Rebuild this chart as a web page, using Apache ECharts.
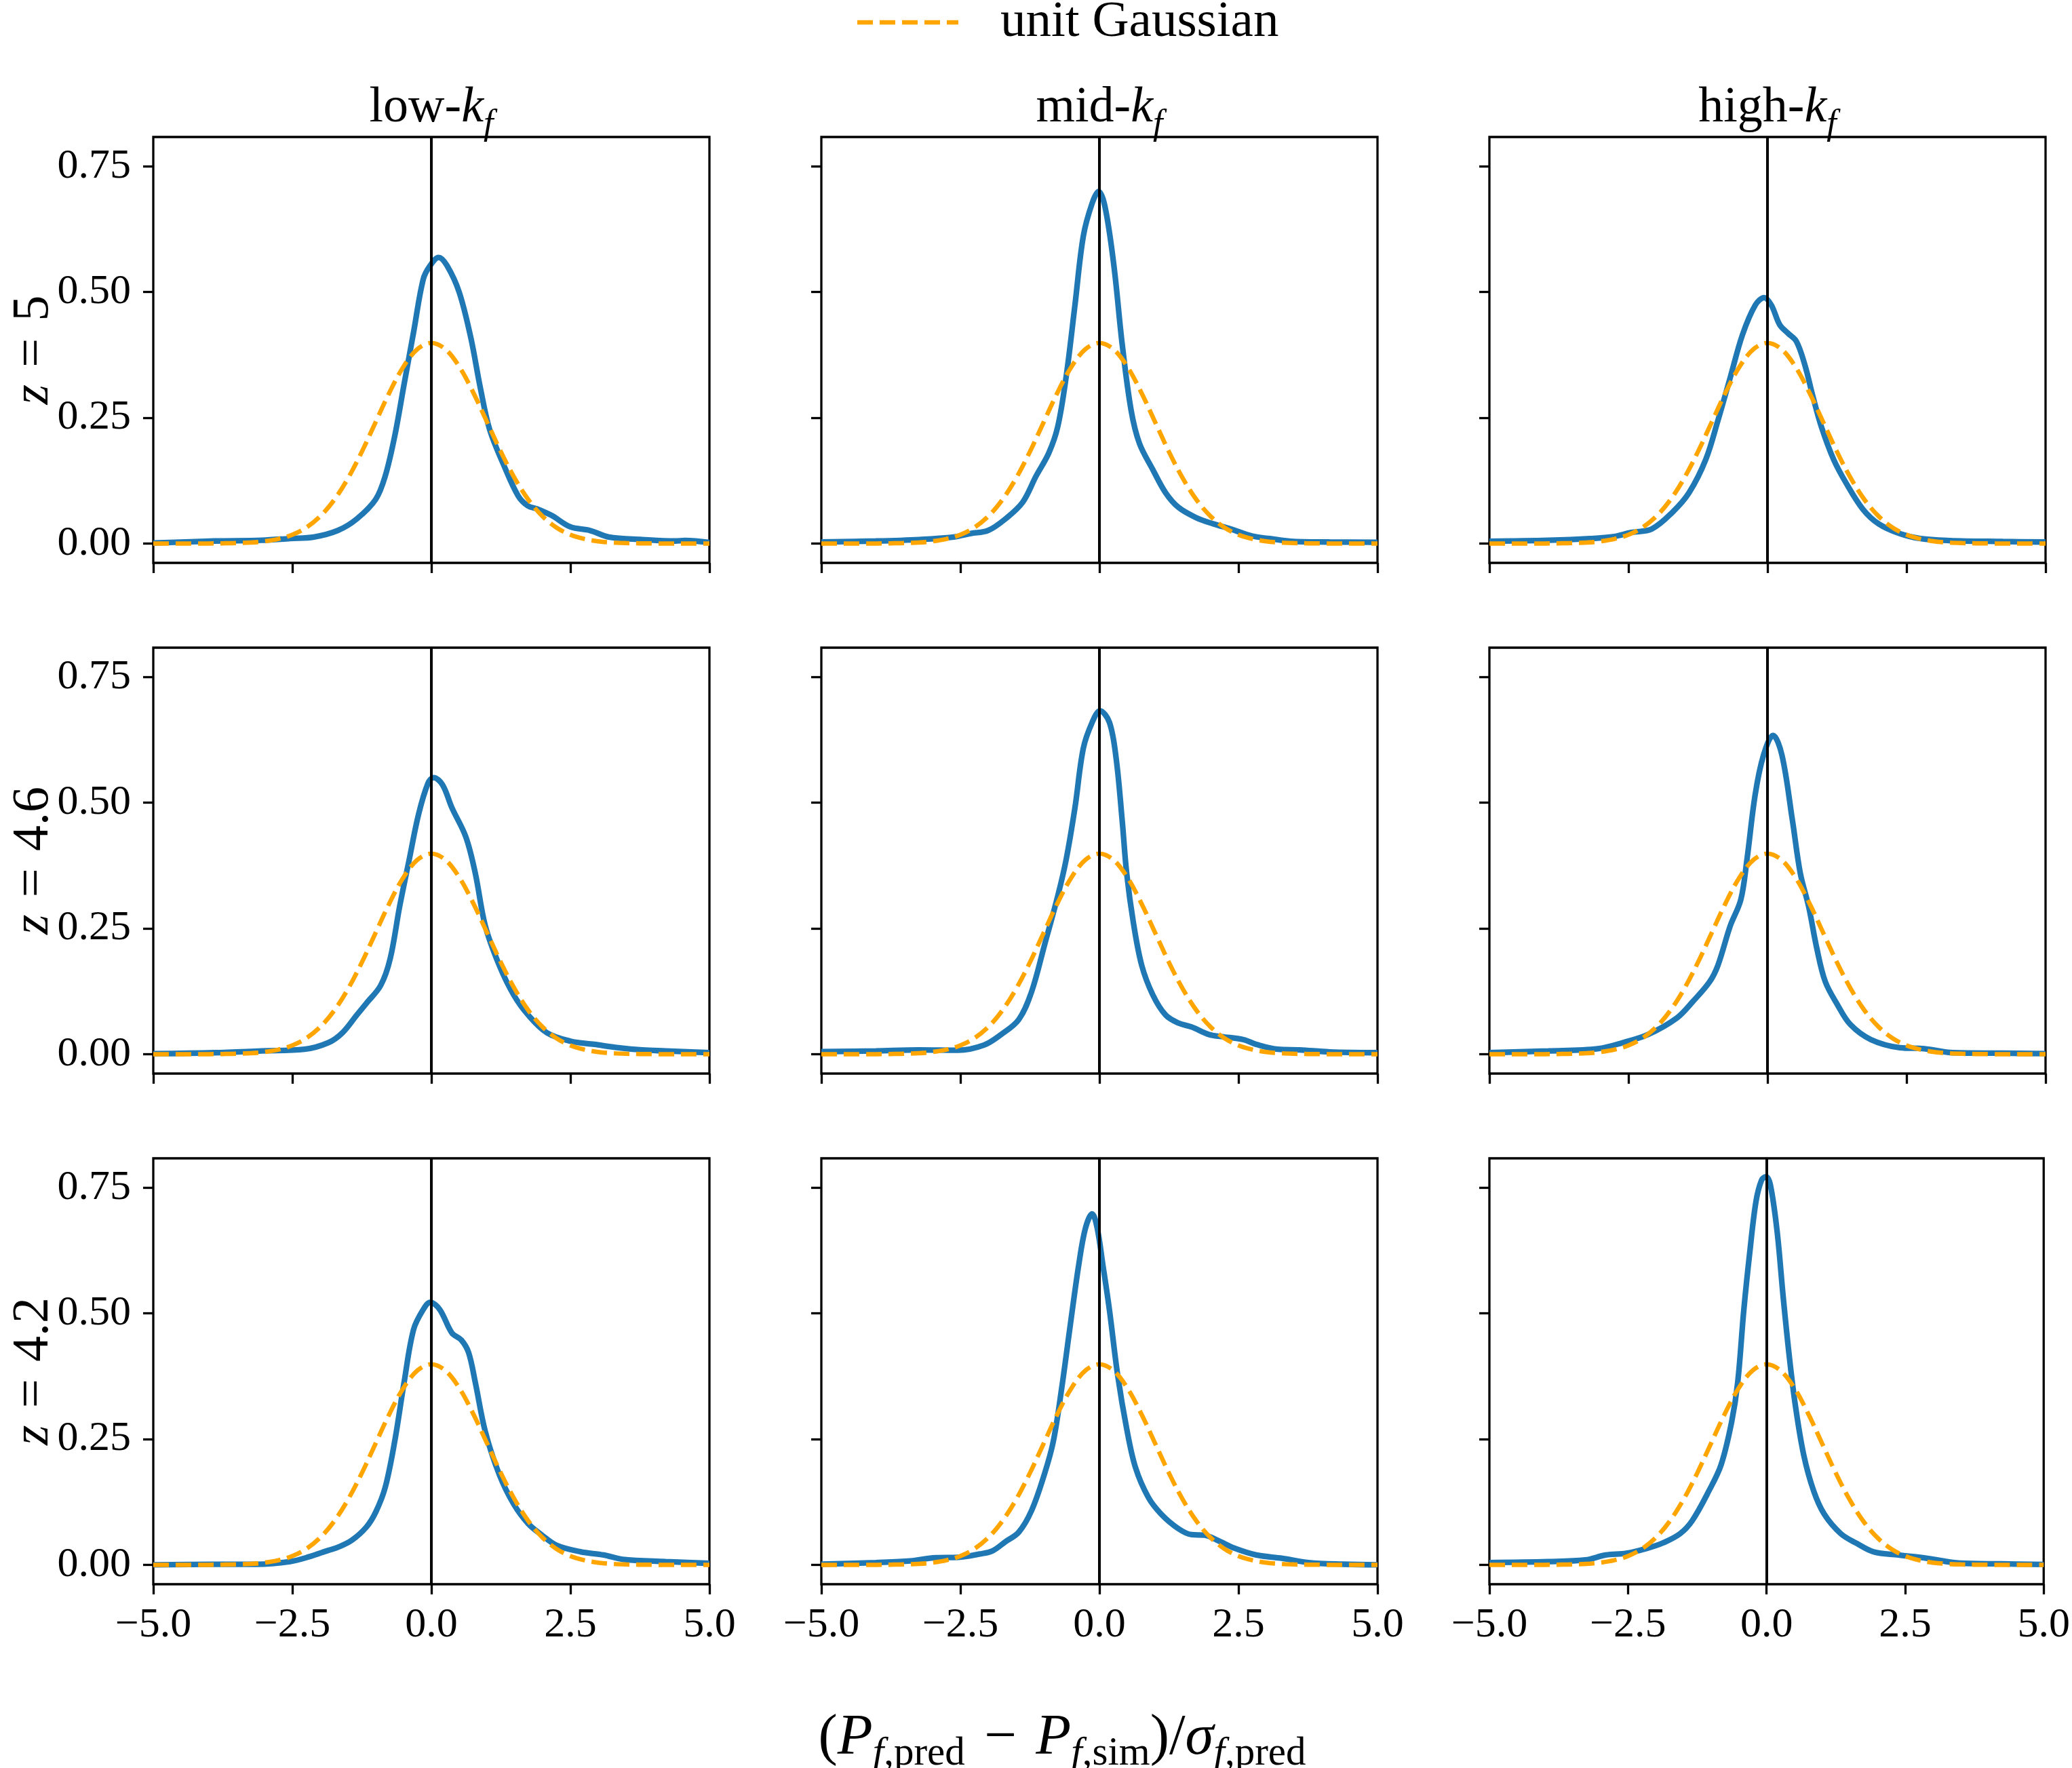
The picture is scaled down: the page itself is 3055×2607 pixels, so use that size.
<!DOCTYPE html>
<html>
<head>
<meta charset="utf-8">
<script src="https://cdn.jsdelivr.net/npm/echarts@6/dist/echarts.min.js"></script>
<style>
html,body{margin:0;padding:0;background:#fff;}
#chart{width:3055px;height:2607px;}
</style>
</head>
<body>
<div id="chart"></div>
<script>
// ---------- labels ----------
const colPrefixes = ['low-', 'mid-', 'high-'];
const rowZ = ['5', '4.6', '4.2'];
const yTicks = [0, 0.25, 0.5, 0.75];
const legendName = 'unit Gaussian';

// ---------- unit Gaussian ----------
const gaussX = [-5,-4.75,-4.5,-4.25,-4,-3.75,-3.5,-3.25,-3,-2.75,-2.5,-2.25,-2,-1.75,-1.5,-1.25,-1,-0.75,-0.5,-0.25,0,0.25,0.5,0.75,1,1.25,1.5,1.75,2,2.25,2.5,2.75,3,3.25,3.5,3.75,4,4.25,4.5,4.75,5];
const gaussY = [0,0,0,0,0.0001,0.0004,0.0009,0.002,0.0044,0.0091,0.0175,0.0317,0.054,0.0863,0.1295,0.1826,0.242,0.3011,0.3521,0.3867,0.3989,0.3867,0.3521,0.3011,0.242,0.1826,0.1295,0.0863,0.054,0.0317,0.0175,0.0091,0.0044,0.002,0.0009,0.0004,0.0001,0,0,0,0];

// ---------- z = 5 ----------
const lowZ5X = [-5,-3.9,-3.05,-2.54,-2.11,-1.68,-1.34,-1.0,-0.83,-0.66,-0.49,-0.32,-0.145,-0.02,0.13,0.28,0.5,0.71,0.88,1.05,1.31,1.56,1.735,1.9,2.16,2.5,2.85,3.19,3.79,4.38,4.56,5];
const lowZ5Y = [0.001,0.005,0.0065,0.01,0.013,0.026,0.049,0.088,0.134,0.213,0.317,0.42,0.526,0.553,0.569,0.553,0.5,0.409,0.31,0.226,0.154,0.095,0.075,0.069,0.056,0.033,0.026,0.013,0.008,0.005,0.006,0.002];
const midZ5X = [-5,-4.02,-3.24,-2.62,-2.31,-2.0,-1.69,-1.38,-1.14,-0.91,-0.75,-0.6,-0.44,-0.29,-0.13,-0.015,0.10,0.26,0.41,0.57,0.72,0.96,1.19,1.42,1.73,2.05,2.36,2.74,3.06,3.44,4.14,5];
const midZ5Y = [0.003,0.005,0.008,0.013,0.02,0.026,0.049,0.082,0.134,0.18,0.232,0.33,0.474,0.611,0.677,0.70,0.67,0.553,0.396,0.265,0.199,0.147,0.101,0.072,0.052,0.039,0.029,0.015,0.0098,0.0046,0.003,0.0026];
const highZ5X = [-5,-3.94,-3.19,-2.75,-2.45,-2.08,-1.71,-1.41,-1.11,-0.89,-0.67,-0.45,-0.22,-0.06,0.07,0.22,0.37,0.52,0.67,0.82,0.97,1.19,1.41,1.71,2.0,2.38,2.75,3.27,4.23,5];
const highZ5Y = [0.0046,0.0065,0.0098,0.014,0.022,0.029,0.062,0.101,0.167,0.245,0.33,0.415,0.474,0.489,0.474,0.435,0.418,0.402,0.356,0.291,0.232,0.167,0.121,0.069,0.039,0.0196,0.0098,0.0059,0.004,0.003];

// ---------- z = 4.6 ----------
const lowZ46X = [-5,-3.9,-3.05,-2.28,-1.85,-1.6,-1.34,-1.17,-0.91,-0.74,-0.57,-0.40,-0.23,-0.06,0.04,0.2,0.37,0.62,0.79,0.97,1.22,1.48,1.74,2.08,2.5,2.93,3.36,3.79,4.21,5];
const lowZ46Y = [0.001,0.003,0.0065,0.0098,0.023,0.0425,0.078,0.101,0.137,0.19,0.294,0.386,0.477,0.539,0.55,0.536,0.49,0.432,0.36,0.255,0.177,0.118,0.078,0.0425,0.026,0.0196,0.013,0.0085,0.0065,0.003];
const midZ46X = [-5,-4.02,-3.24,-2.54,-2.08,-1.77,-1.45,-1.22,-0.99,-0.75,-0.60,-0.44,-0.29,-0.13,0.01,0.18,0.30,0.41,0.49,0.61,0.76,0.96,1.19,1.42,1.66,1.97,2.2,2.59,2.82,3.21,3.6,4.14,5];
const midZ46Y = [0.005,0.0065,0.0085,0.0078,0.018,0.039,0.069,0.124,0.216,0.314,0.386,0.49,0.608,0.66,0.683,0.66,0.589,0.464,0.36,0.262,0.177,0.118,0.078,0.062,0.054,0.039,0.035,0.029,0.0196,0.0098,0.0085,0.0046,0.003];
const highZ46X = [-5,-3.94,-3.05,-2.6,-2.15,-1.63,-1.34,-1.04,-0.89,-0.67,-0.48,-0.37,-0.22,-0.07,0.10,0.26,0.45,0.59,0.74,0.89,1.04,1.26,1.49,1.86,2.38,2.82,3.34,4.23,5];
const highZ46Y = [0.003,0.0065,0.011,0.023,0.039,0.072,0.105,0.144,0.177,0.255,0.307,0.386,0.517,0.595,0.634,0.595,0.464,0.36,0.294,0.209,0.144,0.098,0.059,0.029,0.013,0.011,0.003,0.002,0.001];

// ---------- z = 4.2 ----------
const lowZ42X = [-5,-3.9,-3.14,-2.54,-2.2,-1.85,-1.68,-1.43,-1.17,-1.0,-0.83,-0.66,-0.49,-0.32,-0.145,-0.02,0.15,0.37,0.54,0.67,0.79,0.97,1.22,1.48,1.74,1.99,2.25,2.68,3.1,3.44,4.21,5];
const lowZ42Y = [0,0.001,0.001,0.0065,0.016,0.029,0.035,0.049,0.075,0.105,0.154,0.245,0.363,0.468,0.508,0.522,0.508,0.461,0.447,0.422,0.363,0.265,0.18,0.121,0.082,0.059,0.039,0.026,0.0196,0.011,0.0065,0.003];
const midZ42X = [-5,-4.02,-3.4,-2.94,-2.54,-2.15,-1.92,-1.69,-1.45,-1.22,-0.99,-0.83,-0.68,-0.52,-0.37,-0.25,-0.13,-0.04,0.06,0.18,0.33,0.49,0.65,0.88,1.11,1.42,1.66,1.89,2.12,2.43,2.82,3.29,3.76,4.38,5];
const midZ42Y = [0.0013,0.0046,0.0078,0.0144,0.015,0.0216,0.028,0.046,0.065,0.108,0.18,0.245,0.35,0.48,0.598,0.67,0.698,0.67,0.598,0.507,0.376,0.271,0.193,0.134,0.101,0.072,0.06,0.059,0.049,0.033,0.0196,0.013,0.0046,0.0013,0];
const highZ42X = [-5,-3.94,-3.27,-2.9,-2.53,-2.15,-1.86,-1.56,-1.34,-1.04,-0.82,-0.63,-0.52,-0.41,-0.30,-0.19,-0.09,-0.01,0.07,0.19,0.30,0.41,0.52,0.67,0.85,1.04,1.34,1.63,1.93,2.38,2.9,3.49,4.23,5];
const highZ42Y = [0.0046,0.0065,0.0098,0.0196,0.023,0.033,0.044,0.062,0.088,0.147,0.199,0.284,0.363,0.507,0.624,0.723,0.765,0.772,0.755,0.664,0.533,0.415,0.317,0.219,0.147,0.101,0.062,0.0425,0.026,0.0196,0.013,0.0033,0.002,0.0007];

const panels = [
  [lowZ5X, lowZ5Y], [midZ5X, midZ5Y], [highZ5X, highZ5Y],
  [lowZ46X, lowZ46Y], [midZ46X, midZ46Y], [highZ46X, highZ46Y],
  [lowZ42X, lowZ42Y], [midZ42X, midZ42Y], [highZ42X, highZ42Y]
];

// ---------- layout ----------
const FONT = '"Liberation Serif", "DejaVu Serif", serif';
const colLeft = [226, 1211, 2196];
const rowTop = [202, 955, 1708];
const panelW = 820, panelH = 628;
const BLUE = '#1f77b4', ORANGE = '#FFA500';

const zip = (xs, ys) => xs.map((x, i) => [x, ys[i]]);
const fmtX = v => (v < 0 ? '\u2212' : '') + Math.abs(v).toFixed(1);

const grids = [], xAxes = [], yAxes = [], series = [];
for (let r = 0; r < 3; r++) {
  for (let c = 0; c < 3; c++) {
    const i = r * 3 + c;
    grids.push({left: colLeft[c], top: rowTop[r], width: panelW, height: panelH,
      show: true, borderColor: '#000', borderWidth: 3.3, backgroundColor: 'rgba(0,0,0,0)', containLabel: false});
    xAxes.push({gridIndex: i, type: 'value', min: -5, max: 5, interval: 2.5, position: 'bottom',
      axisLine: {show: false, onZero: false},
      axisTick: {show: true, inside: false, length: 15, lineStyle: {color: '#000', width: 3.3}},
      axisLabel: {show: r === 2, margin: 30, fontSize: 62, fontFamily: FONT, color: '#000',
        formatter: fmtX, showMinLabel: true, showMaxLabel: true},
      splitLine: {show: false}});
    yAxes.push({gridIndex: i, type: 'value', min: -0.0385, max: 0.8085, position: 'left',
      axisLine: {show: false, onZero: false},
      axisTick: {show: true, inside: false, length: 15, customValues: yTicks, lineStyle: {color: '#000', width: 3.3}},
      axisLabel: {show: c === 0, customValues: yTicks, margin: 33, fontSize: 62, fontFamily: FONT, color: '#000',
        formatter: v => v.toFixed(2)},
      splitLine: {show: false}});
    const p = panels[i];
    series.push({type: 'line', name: 'data', xAxisIndex: i, yAxisIndex: i, data: zip(p[0], p[1]),
      smooth: 0.35, symbol: 'none', lineStyle: {color: BLUE, width: 8.3}, z: 2, animation: false});
    series.push({type: 'line', name: legendName, xAxisIndex: i, yAxisIndex: i, data: zip(gaussX, gaussY),
      smooth: 0.35, symbol: 'none', lineStyle: {color: ORANGE, width: 6.5, type: [23, 10]}, z: 3, animation: false,
      markLine: {silent: true, symbol: ['none', 'none'], label: {show: false}, animation: false,
        lineStyle: {color: '#000', width: 4, type: 'solid'}, data: [{xAxis: 0}]}});
  }
}

const graphics = [];
// legend
graphics.push({type: 'line', shape: {x1: 1264, y1: 33, x2: 1413, y2: 33},
  style: {stroke: ORANGE, lineWidth: 6.5, lineDash: [23, 10]}});
graphics.push({type: 'text', x: 1475, y: 33,
  style: {text: legendName, fontSize: 75, fontFamily: FONT, fill: '#000', align: 'left', verticalAlign: 'middle'}});
// column titles
for (let c = 0; c < 3; c++) {
  graphics.push({type: 'text', x: colLeft[c] + panelW / 2, y: 160,
    style: {text: '{r|' + colPrefixes[c] + '}{i|k}{s|f}', align: 'center', verticalAlign: 'middle',
      rich: {
        r: {fontSize: 74, fontFamily: FONT, fill: '#000', lineHeight: 100, verticalAlign: 'middle'},
        i: {fontSize: 74, fontFamily: FONT, fontStyle: 'italic', fill: '#000', lineHeight: 100, verticalAlign: 'middle'},
        s: {fontSize: 52, fontFamily: FONT, fontStyle: 'italic', fill: '#000', lineHeight: 52, verticalAlign: 'bottom'}
      }}});
}
// row labels
for (let r = 0; r < 3; r++) {
  graphics.push({type: 'text', x: 50, y: rowTop[r] + panelH / 2, rotation: Math.PI / 2,
    style: {text: '{i|z}{r|\u2004=\u2004' + rowZ[r] + '}', align: 'center', verticalAlign: 'middle',
      rich: {
        i: {fontSize: 76, fontFamily: FONT, fontStyle: 'italic', fill: '#000'},
        r: {fontSize: 76, fontFamily: FONT, fill: '#000'}
      }}});
}
// x label
const subR = {fontSize: 59, fontFamily: FONT, fill: '#000', lineHeight: 59, verticalAlign: 'bottom'};
const subI = Object.assign({}, subR, {fontStyle: 'italic'});
graphics.push({type: 'text', x: 1566, y: 2564,
  style: {text: '{r|(}{i|P}{si|f}{s|,pred}{r|\u2004\u2212\u2004}{i|P}{si|f}{s|,sim}{r|)/}{i|\u03C3}{si|f}{s|,pred}',
    align: 'center', verticalAlign: 'middle',
    rich: {
      r: {fontSize: 85, fontFamily: FONT, fill: '#000', lineHeight: 104, verticalAlign: 'middle'},
      i: {fontSize: 85, fontFamily: FONT, fontStyle: 'italic', fill: '#000', lineHeight: 104, verticalAlign: 'middle'},
      s: subR, si: subI
    }}});

const chart = echarts.init(document.getElementById('chart'), null, {renderer: 'canvas'});
chart.setOption({
  backgroundColor: '#fff',
  animation: false,
  grid: grids,
  xAxis: xAxes,
  yAxis: yAxes,
  series: series,
  graphic: graphics
});
</script>
</body>
</html>
